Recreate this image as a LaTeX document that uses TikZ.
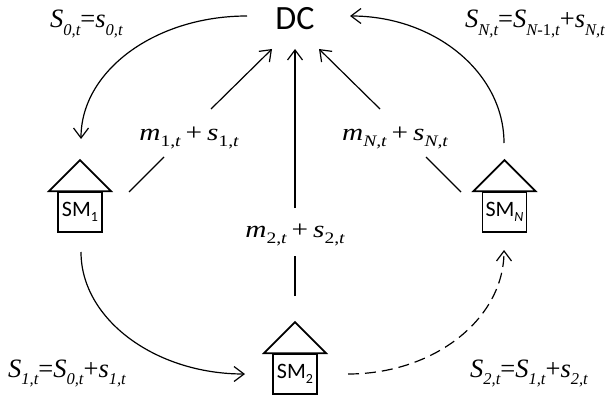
\RequirePackage{fix-cm}
\documentclass[tikz,border=0pt]{standalone}
\usepackage{fontspec}
\setmainfont{Liberation Serif}
\newfontfamily\cbr{Carlito}
\newfontfamily\tms{Liberation Serif}
\newfontfamily\mth[FakeStretch=1.22]{Liberation Serif}
\usetikzlibrary{arrows.meta}
\newcommand{\Sub}[1]{\raisebox{-0.28em}{\tms\fontsize{16.5}{16.5}\selectfont\itshape #1}}
\newcommand{\Sm}[2]{{\tms\itshape #1}\Sub{#2}}
\newcommand{\MM}[3]{{\itshape #1}\raisebox{-0.28em}{\fontsize{16}{16}\selectfont #2,\itshape t}\hspace{5pt}+\hspace{5pt}{\itshape s}\raisebox{-0.28em}{\fontsize{16}{16}\selectfont #3,\itshape t}}
\newcommand{\SMsub}[1]{\raisebox{-0.25em}{\fontsize{14}{14}\selectfont #1}}
\tikzset{
  x=1pt,y=-1pt,
  conn/.style={line width=1.2pt,draw=black},
  arr/.style={conn,-{Straight Barb[length=10pt,width=15pt,line width=1.2pt]}},
  smbox/.style={draw,line width=1.7pt,minimum width=44pt,minimum height=40pt,inner sep=0pt,
    font=\cbr\fontsize{22}{22}\selectfont},
  roof/.style={draw,line width=1.7pt,line join=miter},
  flabel/.style={inner sep=0pt,font=\tms\fontsize{26.5}{26.5}\selectfont},
  mlabel/.style={inner sep=0pt,font=\mth\fontsize{24}{24}\selectfont}
}
\begin{document}
\begin{tikzpicture}
\useasboundingbox (0,0) rectangle (607,401);
\node[inner sep=0pt,font=\cbr\fontsize{34}{34}\selectfont] (dc) at (295,19) {DC};

\node[smbox] (sm1) at (80,212) {SM\SMsub{1}};
\node[smbox] (sm2) at (295,374) {SM\SMsub{2}};
\node[smbox] (smn) at (504.5,212) {SM\SMsub{\itshape N}};
\draw[roof] (sm1.north) ++(-31,0) -- ++(31,-31) -- ++(31,31) -- cycle;
\draw[roof] (sm2.north) ++(-31,0) -- ++(31,-31) -- ++(31,31) -- cycle;
\draw[roof] (smn.north) ++(-31,0) -- ++(31,-31) -- ++(31,31) -- cycle;

\node[mlabel] (m1) at (189,138) {\MM{m}{1}{1}};
\node[mlabel] (m2) at (295,235) {\MM{m}{2}{2}};
\node[mlabel] (mn) at (395,138) {\MM{m}{\itshape N}{\itshape N}};

\coordinate (a1) at (129,192); \coordinate (a2) at (164,157);
\coordinate (a3) at (211,109); \coordinate (a4) at (272,49);
\coordinate (b1) at (295,296); \coordinate (b2) at (295,256);
\coordinate (b3) at (295,208); \coordinate (b4) at (295,49);
\coordinate (c1) at (461,192); \coordinate (c2) at (426,157);
\coordinate (c3) at (380,109); \coordinate (c4) at (319,49);
\draw[conn] (a1) -- (a2);
\draw[arr] (a3) -- (a4);
\draw[conn] (b1) -- (b2);
\draw[arr] (b3) -- (b4);
\draw[conn] (c1) -- (c2);
\draw[arr] (c3) -- (c4);

\coordinate (d1) at (247,16); \coordinate (d2) at (81,139);
\coordinate (e1) at (81,252); \coordinate (e2) at (245,374);
\coordinate (f1) at (348,374); \coordinate (f2) at (504,250);
\coordinate (g1) at (504,143); \coordinate (g2) at (350,16);
\draw[arr] (d1) .. controls (155,16) and (81,71) .. (d2);
\draw[arr] (e1) .. controls (81,319) and (155,374) .. (e2);
\draw[arr,dash pattern=on 11pt off 6pt] (f1) .. controls (434,374) and (504,319) .. (f2);
\draw[arr] (g1) .. controls (504,73) and (435,16) .. (g2);

\node[flabel,anchor=base west] (l0) at (50,28) {\Sm{S}{0,t}=\Sm{s}{0,t}};
\node[flabel,anchor=base west] (ln) at (465,28) {\Sm{S}{N,t}=\Sm{S}{N}\raisebox{-0.28em}{\fontsize{16.5}{16.5}\selectfont-1,\itshape t}+\Sm{s}{N,t}};
\node[flabel,anchor=base west] (l1) at (8,377) {\Sm{S}{1,t}=\Sm{S}{0,t}+\Sm{s}{1,t}};
\node[flabel,anchor=base west] (l2) at (470,377) {\Sm{S}{2,t}=\Sm{S}{1,t}+\Sm{s}{2,t}};
\end{tikzpicture}
\end{document}
